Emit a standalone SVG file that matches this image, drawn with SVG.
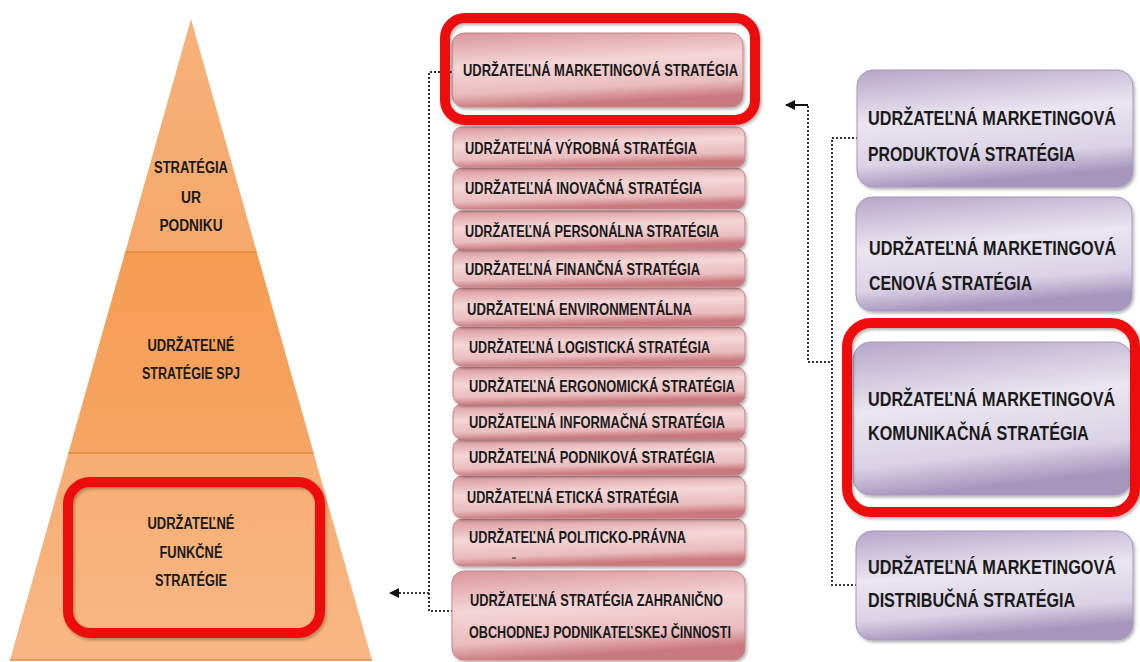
<svg xmlns="http://www.w3.org/2000/svg" width="1140" height="662" viewBox="0 0 1140 662">
<defs>
  <linearGradient id="gTop" x1="0" y1="0" x2="0" y2="1">
    <stop offset="0" stop-color="#F7B27A"/>
    <stop offset="1" stop-color="#F6A86A"/>
  </linearGradient>
  <linearGradient id="gMid" x1="0" y1="0" x2="0" y2="1">
    <stop offset="0" stop-color="#F59C52"/>
    <stop offset="1" stop-color="#F6A564"/>
  </linearGradient>
  <linearGradient id="gBot" x1="0" y1="0" x2="0" y2="1">
    <stop offset="0" stop-color="#F7AE73"/>
    <stop offset="1" stop-color="#F8B784"/>
  </linearGradient>
  <linearGradient id="gPink" x1="0" y1="0" x2="0.2" y2="1">
    <stop offset="0" stop-color="#DA969A"/>
    <stop offset="0.45" stop-color="#F4D6D7"/>
    <stop offset="0.8" stop-color="#EABCBE"/>
    <stop offset="1" stop-color="#C9787D"/>
  </linearGradient>
  <linearGradient id="gLav" x1="0" y1="0" x2="0.2" y2="1">
    <stop offset="0" stop-color="#B5A6CA"/>
    <stop offset="0.45" stop-color="#EAE5F0"/>
    <stop offset="0.8" stop-color="#DAD2E5"/>
    <stop offset="1" stop-color="#A696BE"/>
  </linearGradient>
  <filter id="sh" x="-10%" y="-10%" width="125%" height="130%">
    <feDropShadow dx="1.5" dy="2" stdDeviation="1.5" flood-color="#000" flood-opacity="0.3"/>
  </filter>
  <marker id="arr" viewBox="0 0 10 10" refX="9" refY="5" markerWidth="5" markerHeight="5" orient="auto-start-reverse" markerUnits="strokeWidth">
    <path d="M0,0 L10,5 L0,10 z" fill="#111"/>
  </marker>
  <style>
    text { font-family: "Liberation Sans", Arial, sans-serif; font-weight: bold; fill: #1a1a1a; }
    .py { font-size: 16px; text-anchor: middle; }
    .mt { font-size: 16.5px; }
    .rt { font-size: 20.5px; }
    .pink { fill: url(#gPink); stroke: #C4858A; stroke-width: 1; filter: url(#sh); }
    .lav { fill: url(#gLav); stroke: #A596BC; stroke-width: 1; filter: url(#sh); }
    .hl { fill: none; stroke: #EE1111; stroke-width: 10; filter: url(#sh); }
    .dot { fill: none; stroke: #333; stroke-width: 2; stroke-dasharray: 2 2; }
    .div { stroke: #E2883E; stroke-width: 1.5; }
  </style>
</defs>

<g id="pyramid">
  <polygon points="191,19 256.8,252 125.2,252" fill="url(#gTop)"/>
  <polygon points="125.2,252 256.8,252 313.6,453 68.4,453" fill="url(#gMid)"/>
  <polygon points="68.4,453 313.6,453 372,660 10,660" fill="url(#gBot)"/>
  <line class="div" x1="125.2" y1="252" x2="256.8" y2="252"/>
  <line class="div" x1="68.4" y1="453" x2="313.6" y2="453"/>
  <line class="div" x1="10" y1="660" x2="372" y2="660"/>
</g>

<g id="n-ur">
  <text class="py" x="191" y="173" textLength="74" lengthAdjust="spacingAndGlyphs">STRATÉGIA</text>
  <text class="py" x="191" y="203" textLength="20" lengthAdjust="spacingAndGlyphs">UR</text>
  <text class="py" x="191" y="231" textLength="63" lengthAdjust="spacingAndGlyphs">PODNIKU</text>
</g>
<g id="n-spj">
  <text class="py" x="191" y="351" textLength="87" lengthAdjust="spacingAndGlyphs">UDRŽATEĽNÉ</text>
  <text class="py" x="191" y="379" textLength="98" lengthAdjust="spacingAndGlyphs">STRATÉGIE SPJ</text>
</g>
<g id="n-funk">
  <rect class="hl" x="68" y="482" width="252" height="151" rx="22"/>
  <text class="py" x="191" y="529" textLength="87" lengthAdjust="spacingAndGlyphs">UDRŽATEĽNÉ</text>
  <text class="py" x="191" y="558" textLength="63" lengthAdjust="spacingAndGlyphs">FUNKČNÉ</text>
  <text class="py" x="191" y="586" textLength="72" lengthAdjust="spacingAndGlyphs">STRATÉGIE</text>
</g>

<g id="connectors">
  <path class="dot" d="M452,72 H429 V611 H457"/>
  <path class="dot" d="M429,593 H390" marker-end="url(#arr)"/>
  <path class="dot" d="M830,362 H808 V105"/>
  <path d="M808,105 H786" fill="none" stroke="#111" stroke-width="2" marker-end="url(#arr)"/>
  <path class="dot" d="M858,138 H832 V585 H858"/>
</g>

<g id="m-last"><rect class="pink" x="452" y="571" width="293" height="89" rx="12"/>
  <text class="mt" x="470" y="606" textLength="253" lengthAdjust="spacingAndGlyphs">UDRŽATEĽNÁ STRATÉGIA ZAHRANIČNO</text>
  <text class="mt" x="469" y="638" textLength="262" lengthAdjust="spacingAndGlyphs">OBCHODNEJ PODNIKATEĽSKEJ ČINNOSTI</text></g>
<g id="m-polit"><rect class="pink" x="453" y="519" width="292" height="47" rx="9"/>
  <text class="mt" x="469" y="543" textLength="217" lengthAdjust="spacingAndGlyphs">UDRŽATEĽNÁ POLITICKO-PRÁVNA</text>
  <line x1="512" y1="558" x2="516" y2="558" stroke="#555" stroke-width="1.5"/></g>
<g id="m-etic"><rect class="pink" x="453" y="476" width="292" height="42" rx="9"/>
  <text class="mt" x="467" y="503" textLength="212" lengthAdjust="spacingAndGlyphs">UDRŽATEĽNÁ ETICKÁ STRATÉGIA</text></g>
<g id="m-podn"><rect class="pink" x="453" y="439" width="292" height="36" rx="9"/>
  <text class="mt" x="469" y="463" textLength="246" lengthAdjust="spacingAndGlyphs">UDRŽATEĽNÁ PODNIKOVÁ STRATÉGIA</text></g>
<g id="m-info"><rect class="pink" x="453" y="404" width="292" height="35" rx="9"/>
  <text class="mt" x="469" y="428" textLength="256" lengthAdjust="spacingAndGlyphs">UDRŽATEĽNÁ INFORMAČNÁ STRATÉGIA</text></g>
<g id="m-ergo"><rect class="pink" x="453" y="367" width="292" height="37" rx="9"/>
  <text class="mt" x="469" y="392" textLength="266" lengthAdjust="spacingAndGlyphs">UDRŽATEĽNÁ ERGONOMICKÁ STRATÉGIA</text></g>
<g id="m-logi"><rect class="pink" x="453" y="327" width="292" height="39" rx="9"/>
  <text class="mt" x="469" y="353" textLength="241" lengthAdjust="spacingAndGlyphs">UDRŽATEĽNÁ LOGISTICKÁ STRATÉGIA</text></g>
<g id="m-envi"><rect class="pink" x="453" y="288" width="292" height="38" rx="9"/>
  <text class="mt" x="467" y="315" textLength="225" lengthAdjust="spacingAndGlyphs">UDRŽATEĽNÁ ENVIRONMENTÁLNA</text></g>
<g id="m-fina"><rect class="pink" x="453" y="249" width="292" height="38" rx="9"/>
  <text class="mt" x="465" y="275" textLength="235" lengthAdjust="spacingAndGlyphs">UDRŽATEĽNÁ FINANČNÁ STRATÉGIA</text></g>
<g id="m-pers"><rect class="pink" x="453" y="211" width="292" height="38" rx="9"/>
  <text class="mt" x="465" y="237" textLength="254" lengthAdjust="spacingAndGlyphs">UDRŽATEĽNÁ PERSONÁLNA STRATÉGIA</text></g>
<g id="m-inov"><rect class="pink" x="453" y="168" width="292" height="41" rx="9"/>
  <text class="mt" x="465" y="194" textLength="237" lengthAdjust="spacingAndGlyphs">UDRŽATEĽNÁ INOVAČNÁ STRATÉGIA</text></g>
<g id="m-vyro"><rect class="pink" x="453" y="127" width="292" height="40" rx="9"/>
  <text class="mt" x="465" y="154" textLength="232" lengthAdjust="spacingAndGlyphs">UDRŽATEĽNÁ VÝROBNÁ STRATÉGIA</text></g>
<g id="m-mark"><rect class="pink" x="452" y="33" width="291" height="74" rx="12"/>
  <rect class="hl" x="445" y="18" width="310" height="102" rx="20"/>
  <text class="mt" x="463" y="76" textLength="275" lengthAdjust="spacingAndGlyphs">UDRŽATEĽNÁ MARKETINGOVÁ STRATÉGIA</text></g>

<g id="r-prod"><rect class="lav" x="857" y="70" width="276" height="117" rx="16"/>
  <g transform="translate(868 0) scale(0.8 1)">
    <text class="rt" x="0" y="125" textLength="310" lengthAdjust="spacingAndGlyphs">UDRŽATEĽNÁ MARKETINGOVÁ</text>
    <text class="rt" x="0" y="161" textLength="259" lengthAdjust="spacingAndGlyphs">PRODUKTOVÁ STRATÉGIA</text>
  </g></g>
<g id="r-cen"><rect class="lav" x="856" y="197" width="276" height="114" rx="16"/>
  <g transform="translate(869 0) scale(0.8 1)">
    <text class="rt" x="0" y="255" textLength="309" lengthAdjust="spacingAndGlyphs">UDRŽATEĽNÁ MARKETINGOVÁ</text>
    <text class="rt" x="0" y="290" textLength="204" lengthAdjust="spacingAndGlyphs">CENOVÁ STRATÉGIA</text>
  </g></g>
<g id="r-kom"><rect class="lav" x="853" y="342" width="279" height="153" rx="18"/>
  <rect class="hl" x="847" y="323" width="288" height="189" rx="24"/>
  <g transform="translate(868 0) scale(0.8 1)">
    <text class="rt" x="0" y="406" textLength="309" lengthAdjust="spacingAndGlyphs">UDRŽATEĽNÁ MARKETINGOVÁ</text>
    <text class="rt" x="0" y="440" textLength="276" lengthAdjust="spacingAndGlyphs">KOMUNIKAČNÁ STRATÉGIA</text>
  </g></g>
<g id="r-dist"><rect class="lav" x="856" y="531" width="277" height="109" rx="16"/>
  <g transform="translate(868 0) scale(0.8 1)">
    <text class="rt" x="0" y="574" textLength="310" lengthAdjust="spacingAndGlyphs">UDRŽATEĽNÁ MARKETINGOVÁ</text>
    <text class="rt" x="0" y="607" textLength="259" lengthAdjust="spacingAndGlyphs">DISTRIBUČNÁ STRATÉGIA</text>
  </g></g>
</svg>
